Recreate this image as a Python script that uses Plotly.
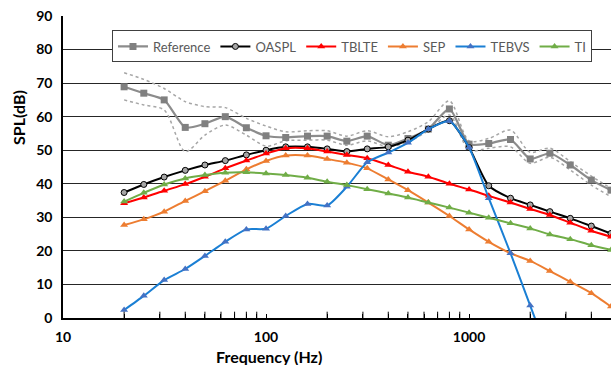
import math
import plotly.graph_objects as go

freq = [20, 25, 31.5, 40, 50, 63, 80, 100, 125, 160, 200, 250, 315, 400, 500,
        630, 800, 1000, 1250, 1600, 2000, 2500, 3150, 4000, 5000]

reference = [68.9, 67.0, 65.0, 56.8, 57.9, 60.0, 56.7, 54.3, 53.8, 54.2, 54.2, 52.7, 54.2,
             51.5, 53.5, 56.3, 62.3, 51.8, 52.0, 53.2, 47.4, 49.1, 45.6, 41.1, 38.1]
ref_upper = [73.1, 71.1, 68.4, 64.5, 63.0, 62.7, 59.5, 57.2, 55.5, 55.8, 55.8, 54.2, 55.8,
             54.0, 55.5, 58.5, 64.7, 52.8, 53.5, 56.0, 49.4, 50.6, 46.6, 42.3, 38.6]
ref_lower = [65.0, 63.5, 62.0, 49.6, 54.5, 57.5, 54.5, 51.2, 52.8, 53.0, 53.0, 51.5, 52.8,
             51.0, 52.5, 55.8, 60.5, 50.0, 50.6, 51.0, 46.1, 47.9, 44.1, 39.6, 36.1]
oaspl = [37.4, 39.8, 42.0, 44.0, 45.6, 46.9, 48.6, 50.0, 51.0, 51.0, 50.4, 49.6, 50.4,
         51.0, 53.0, 56.3, 58.8, 50.8, 39.4, 35.7, 33.7, 31.7, 29.7, 27.4, 25.2]
tblte = [34.2, 35.9, 37.9, 39.9, 42.1, 44.6, 46.9, 49.0, 50.6, 50.6, 49.6, 48.6, 47.6,
         45.6, 43.6, 42.1, 40.0, 38.3, 36.4, 34.4, 32.5, 30.7, 28.4, 26.0, 24.2]
sep = [27.7, 29.4, 31.7, 34.9, 37.8, 40.9, 44.3, 46.8, 48.4, 48.4, 47.4, 46.3, 44.6,
       41.3, 38.1, 34.4, 30.4, 26.4, 22.7, 19.3, 17.0, 14.0, 10.8, 7.4, 3.4]
tebvs = [2.4, 6.6, 11.3, 14.6, 18.5, 22.7, 26.4, 26.6, 30.4, 34.0, 33.5, 39.1, 46.4,
         49.3, 52.2, 56.3, 58.7, 50.8, 35.7, 19.3, 3.7, -12.0]
ti = [34.7, 37.3, 39.8, 41.6, 42.6, 43.3, 43.4, 43.1, 42.6, 41.8, 40.6, 39.6, 38.4,
      37.1, 35.9, 34.4, 32.9, 31.4, 29.9, 28.2, 26.7, 24.9, 23.5, 21.7, 20.3]

y_ticks = [0, 10, 20, 30, 40, 50, 60, 70, 80, 90]
x_ticks = [10, 100, 1000]
x_ticktext = ["10", "100", "1000"]
x_minor_ticks = [20, 30, 40, 50, 60, 70, 80, 90,
                 200, 300, 400, 500, 600, 700, 800, 900,
                 2000, 3000, 4000]

FONT = "Lato"
X_RANGE = [1, 3.699]
Y_RANGE = [0, 90]
GRID = "#262626"

all_ticks = sorted(x_ticks + x_minor_ticks)
label_of = dict(zip(x_ticks, x_ticktext))
all_text = [label_of.get(v, "") for v in all_ticks]

fig = go.Figure()

for bound in (ref_upper, ref_lower):
    fig.add_trace(go.Scatter(
        x=freq, y=bound, mode="lines", showlegend=False, hoverinfo="skip",
        line=dict(color="#a6a6a6", width=1.5, dash="dot", shape="spline", smoothing=0.8)))

fig.add_trace(go.Scatter(
    x=freq, y=reference, name="Reference", mode="lines+markers",
    line=dict(color="#8c8c8c", width=2.2, shape="spline", smoothing=0.6),
    marker=dict(symbol="square", size=7, color="#808080")))
fig.add_trace(go.Scatter(
    x=freq, y=oaspl, name="OASPL", mode="lines+markers",
    line=dict(color="#000000", width=2, shape="spline", smoothing=0.6),
    marker=dict(symbol="circle", size=6, color="#a6a6a6", line=dict(color="#000000", width=1))))
fig.add_trace(go.Scatter(
    x=freq, y=tblte, name="TBLTE", mode="lines+markers",
    line=dict(color="#ff0000", width=2, shape="spline", smoothing=0.6),
    marker=dict(symbol="triangle-up", size=7, color="#ff0000")))
fig.add_trace(go.Scatter(
    x=freq, y=sep, name="SEP", mode="lines+markers",
    line=dict(color="#ed7d31", width=2, shape="spline", smoothing=0.6),
    marker=dict(symbol="triangle-up", size=7, color="#ed7d31")))
fig.add_trace(go.Scatter(
    x=freq[:len(tebvs)], y=tebvs, name="TEBVS", mode="lines+markers",
    line=dict(color="#1a7fd4", width=2, shape="spline", smoothing=0.6),
    marker=dict(symbol="triangle-up", size=7, color="#4472c4")))
fig.add_trace(go.Scatter(
    x=freq, y=ti, name="TI", mode="lines+markers",
    line=dict(color="#70ad47", width=2, shape="spline", smoothing=0.6),
    marker=dict(symbol="triangle-up", size=7, color="#70ad47")))

# minor tick marks on the frequency axis (upper half of a vertical line marker is visible)
fig.add_trace(go.Scatter(
    x=x_minor_ticks, y=[Y_RANGE[0]] * len(x_minor_ticks), mode="markers",
    showlegend=False, hoverinfo="skip", cliponaxis=True,
    marker=dict(symbol="line-ns", size=9, line=dict(color="#000000", width=1))))

plot_w, plot_h = 611 - 63, 365 - 16 - 47

fig.update_layout(
    width=611, height=365,
    margin=dict(l=63, r=0, t=16, b=47),
    paper_bgcolor="white", plot_bgcolor="white",
    font=dict(family=FONT, color="#000000"),
    showlegend=True,
    legend=dict(
        orientation="h", x=0.0894, y=0.952, xanchor="left", yanchor="top",
        bgcolor="white", bordercolor="#404040", borderwidth=1,
        font=dict(family=FONT, size=13, color="#595959"),
        itemwidth=30, tracegroupgap=0),
    xaxis=dict(
        type="log", range=X_RANGE,
        tickmode="array", tickvals=all_ticks, ticktext=all_text,
        tickfont=dict(family=FONT, size=14, color="#000000", weight="bold"),
        showgrid=False,
        showline=True, linecolor="#000000", linewidth=1.5,
        ticks="inside", ticklen=4, tickcolor="#000000", tickwidth=1,
        zeroline=False, ticklabelstandoff=5,
    ),
    yaxis=dict(
        range=Y_RANGE, tickvals=y_ticks,
        tickfont=dict(family=FONT, size=14, color="#000000", weight="bold"),
        showgrid=True, gridcolor=GRID, gridwidth=1,
        showline=True, linecolor="#000000", linewidth=1.5,
        ticks="", zeroline=False, ticklabelstandoff=6,
    ),
)

# vertical gridlines at the labelled decades (log axis shapes use log10 coords)
for v in x_ticks[1:]:
    fig.add_vline(x=math.log10(v), line=dict(color=GRID, width=1), layer="below")

fig.add_annotation(text="Frequency (Hz)", xref="paper", yref="paper",
                   x=(269 - 63) / plot_w, y=-(356 - 318) / plot_h,
                   xanchor="center", yanchor="middle", showarrow=False,
                   font=dict(family=FONT, size=16, weight="bold", color="#000000"))
fig.add_annotation(text="SPL(dB)", xref="paper", yref="paper",
                   x=-(63 - 19) / plot_w, y=(318 - 118) / plot_h, textangle=-90,
                   xanchor="center", yanchor="middle", showarrow=False,
                   font=dict(family=FONT, size=16, weight="bold", color="#000000"))

fig.write_html("out.html")
